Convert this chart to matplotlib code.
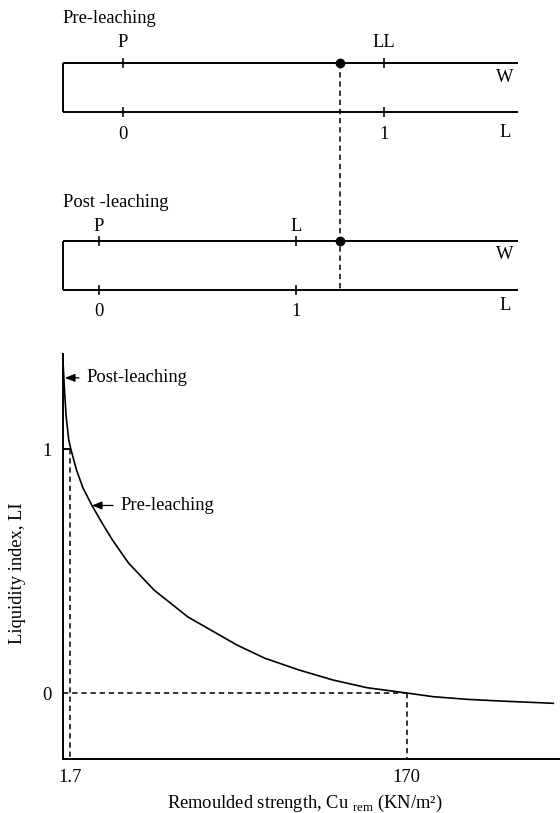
import matplotlib.pyplot as plt
from matplotlib.ticker import NullLocator

plt.rcParams['font.family'] = ['Liberation Serif', 'DejaVu Serif']
plt.rcParams['mathtext.fontset'] = 'custom'
plt.rcParams['mathtext.rm'] = 'Liberation Serif'
FS = 13.3

# water-content scale (fraction of the drawn line) for the consistency limits
pre_w = [0.132, 0.7066]      # P, LL  -> LI = 0, 1
pre_marks = ['P', 'LL']
post_w = [0.0793, 0.514]     # P, L   -> LI = 0, 1
post_marks = ['P', 'L']
li_marks = ['0', '1']
w_natural = 0.61             # natural water content (unchanged by leaching)

# liquidity index vs remoulded strength
cu = [1.551, 1.577, 1.614, 1.672, 1.723, 1.858, 2.031, 2.297, 2.616, 3.041,
      3.784, 5.363, 8.54, 16.69, 24.48, 38.97, 62.03, 98.77, 170, 244.6,
      386.3, 609, 1263]
li = [1.34, 1.244, 1.135, 1.039, 1.0, 0.916, 0.842, 0.77, 0.702, 0.628,
      0.534, 0.423, 0.312, 0.197, 0.1425, 0.0945, 0.0534, 0.0218, 0.0, -0.0152,
      -0.0259, -0.0329, -0.0423]
cu_ticks = [1.7, 170]
cu_labels = ['1.7', '170']
li_ticks = [0, 1]

fig = plt.figure(figsize=(5.6, 8.13), dpi=100)

# --- schematic number lines (y in pixel rows) ---
top = fig.add_axes([0, 1 - 340 / 813, 1, 340 / 813])
top.set_xlim(-62.5 / 455, 497.5 / 455)
top.set_ylim(340, 0)
top.axis('off')


def number_line(yw, yl, wpos, marks, title, ty, gaps):
    kw = dict(color='k', lw=1.4, solid_capstyle='butt')
    top.plot([0, 1], [yw, yw], **kw)
    top.plot([0, 1], [yl, yl], **kw)
    top.plot([0, 0], [yw, yl], **kw)
    for w, m, t in zip(wpos, marks, li_marks):
        top.plot([w, w], [yw - 4, yw + 4], color='k', lw=1.2)
        top.plot([w, w], [yl - 4, yl + 4], color='k', lw=1.2)
        top.text(w, yw - gaps[0], m, ha='center', va='center', fontsize=FS)
        top.text(w, yl + gaps[1], t, ha='center', va='center', fontsize=FS)
    top.text(0, ty, title, ha='left', va='center', fontsize=FS)
    top.text(0.9725, yw + gaps[2], 'W', ha='center', va='center', fontsize=FS)
    top.text(0.9725, yl + gaps[3], 'L', ha='center', va='center', fontsize=FS)
    top.plot(w_natural, yw, 'o', color='k', ms=6)


number_line(63, 112.5, pre_w, pre_marks, 'Pre-leaching', 18.3, (20.5, 22, 14.5, 20))
number_line(240.7, 290, post_w, post_marks, 'Post -leaching', 202.7, (14, 21.7, 13.7, 15))
top.plot([w_natural, w_natural], [63, 290], color='k', lw=1.1, ls=(0, (3.5, 2.5)))

# --- LI vs remoulded strength ---
ax = fig.add_axes([62.5 / 560, 1 - 759 / 813, 497.5 / 560, 405 / 813])
ax.set_xscale('log')
ax.set_xlim(1.535, 1384)
ax.set_ylim(-0.271, 1.392)
for s in ['top', 'right']:
    ax.spines[s].set_visible(False)
for s in ['left', 'bottom']:
    ax.spines[s].set_linewidth(1.4)
ax.set_xticks(cu_ticks)
ax.set_xticklabels(cu_labels)
ax.xaxis.set_minor_locator(NullLocator())
ax.set_yticks(li_ticks)
ax.set_yticklabels([str(v) for v in li_ticks])
ax.tick_params(axis='x', length=0, pad=7, labelsize=FS)
ax.tick_params(axis='y', length=0, pad=8, labelsize=FS)

ax.plot(cu, li, color='k', lw=1.2, solid_joinstyle='round')

x0 = ax.get_xlim()[0]
y0 = ax.get_ylim()[0]
dash = (0, (3.5, 2.5))
ax.plot([x0, cu_ticks[0]], [1, 1], color='k', lw=1.4)
ax.plot([cu_ticks[0], cu_ticks[0]], [1, y0], color='k', lw=1.1, ls=dash)
ax.plot([x0, cu_ticks[1]], [0, 0], color='k', lw=1.1, ls=dash)
ax.plot([cu_ticks[1], cu_ticks[1]], [0, y0], color='k', lw=1.1, ls=dash)

arrow = dict(arrowstyle='-|>,head_length=0.45,head_width=0.18', color='k',
             lw=0.9, shrinkA=3, shrinkB=0)
ax.annotate('Post-leaching', xy=(1.587, 1.294), xytext=(21, 0),
            textcoords='offset pixels', ha='left', va='center', fontsize=FS,
            arrowprops=arrow)
ax.annotate('Pre-leaching', xy=(cu[7], li[7]), xytext=(28, 0),
            textcoords='offset pixels', ha='left', va='center', fontsize=FS,
            arrowprops=arrow)

fig.text(18 / 560, 1 - 573 / 813, 'Liquidity index, LI', rotation=90,
         ha='center', va='center', fontsize=FS)
fig.text(305 / 560, 1 - 803 / 813,
         r'Remoulded strength, Cu $_{\mathrm{rem}}$ (KN/m²)',
         ha='center', va='center', fontsize=FS)

fig.savefig('out.png', dpi=100)
